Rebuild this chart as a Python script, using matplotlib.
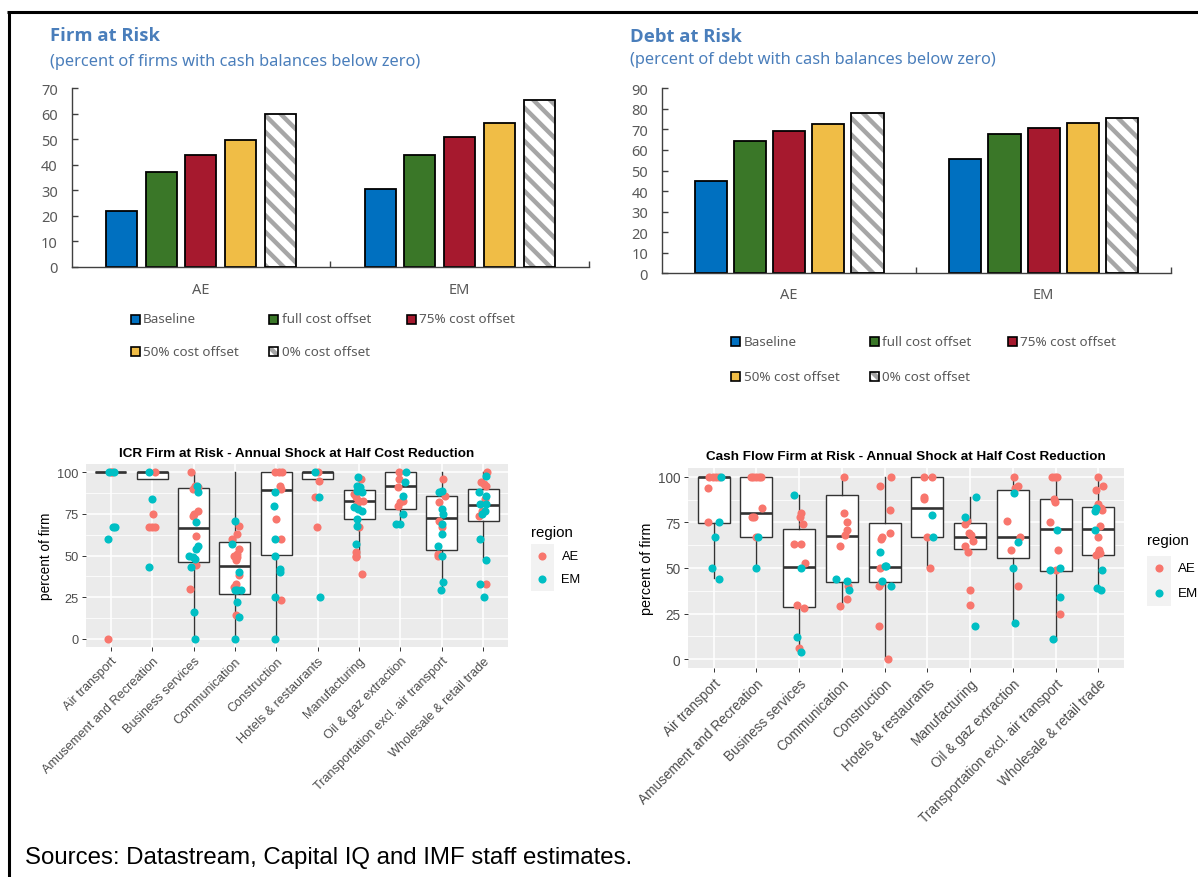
import numpy as np
import matplotlib.pyplot as plt
from matplotlib.patches import Rectangle

W, H = 1198, 878

# ================= data: top bar charts =================
groups = ["AE", "EM"]
scenarios = ["Baseline", "full cost offset", "75% cost offset", "50% cost offset", "0% cost offset"]
# one row per scenario, values for AE / EM
firm_values = [[22.0, 30.5], [37.3, 43.8], [43.8, 50.8], [49.7, 56.4], [59.8, 65.5]]
debt_values = [[44.8, 55.6], [64.5, 67.8], [69.2, 70.8], [72.5, 73.3], [78.0, 75.7]]

# ================= data: bottom box plots =================
sectors = ["Air transport", "Amusement and Recreation", "Business services", "Communication",
           "Construction", "Hotels & restaurants", "Manufacturing", "Oil & gaz extraction",
           "Transportation excl. air transport", "Wholesale & retail trade"]

icr_box_med = [100, 100, 66.3, 43.7, 89.4, 100, 82.8, 91.6, 72.3, 80.2]
icr_box_q1 = [100, 96.2, 45.9, 27.1, 50.3, 96.2, 72.1, 77.8, 53.1, 70.7]
icr_box_q3 = [100, 100, 90.6, 58.1, 100, 100, 89.2, 100, 85.8, 90.0]
icr_box_lo = [100, 96.2, 0, 0, 0, 96.2, 49, 69.3, 28.9, 47.7]
icr_box_hi = [100, 100, 100, 100, 100, 100, 97, 100, 100, 100]

cf_box_med = [100, 80.3, 50.7, 67.7, 50.7, 82.8, 67.2, 67.2, 71.2, 71.2]
cf_box_q1 = [74.8, 67.2, 28.5, 42.2, 42.2, 67.0, 60.2, 55.3, 48.5, 57.3]
cf_box_q3 = [100, 100, 71.2, 90.1, 74.8, 100, 74.5, 92.7, 87.6, 83.6]
cf_box_lo = [44.3, 50.4, 3.8, 28.8, 0, 50.4, 60.2, 20.3, 10.6, 39.4]
cf_box_hi = [100, 100, 90.1, 100, 100, 100, 88.7, 100, 100, 100]

# firm-level points per sector, with the jitter seen in the picture
icr_ae_vals = [
    [100, 100, 0],
    [100, 75, 67, 67, 67],
    [100, 92, 91, 90, 77, 75, 74, 62, 44, 30],
    [68, 63, 60, 54, 51, 50, 49, 47, 38, 33, 31, 14],
    [100, 100, 100, 92, 90, 72, 60, 23],
    [100, 95, 85, 67],
    [96, 87, 85, 83, 83, 81, 67, 52, 50, 49, 39],
    [100, 96, 91, 83, 82, 80],
    [96, 86, 82, 71, 67, 51, 50],
    [100, 94, 93, 92, 84, 77, 74, 33],
]
icr_ae_jit = [
    [0.04, 0.0, -0.08],
    [0.06, 0.03, -0.08, 0.0, 0.06],
    [-0.06, 0.04, 0.10, -0.02, 0.10, 0.02, -0.02, 0.06, 0.06, -0.09],
    [0.10, 0.04, -0.06, 0.09, 0.05, -0.03, 0.06, 0.03, 0.09, 0.03, -0.03, 0.02],
    [-0.04, 0.06, 0.14, 0.08, 0.12, 0.0, 0.12, 0.12],
    [0.0, 0.04, -0.06, -0.02],
    [0.05, -0.12, -0.07, 0.0, 0.10, -0.06, 0.0, -0.07, -0.07, -0.08, 0.06],
    [-0.04, -0.03, -0.05, 0.05, 0.0, -0.05],
    [0.04, 0.08, -0.06, -0.07, 0.0, -0.10, -0.08],
    [0.10, -0.05, 0.02, 0.06, 0.04, -0.02, -0.11, 0.08],
]
icr_em_vals = [
    [100, 100, 67, 67, 60],
    [100, 84, 43],
    [92, 88, 70, 56, 54, 50, 49, 48, 43, 16, 0],
    [71, 57, 40, 29, 29, 29, 22, 13, 0],
    [88, 80, 60, 50, 42, 40, 25, 0],
    [100, 85, 25],
    [97, 92, 91, 89, 88, 79, 78, 77, 72, 68, 57],
    [100, 94, 86, 75, 69, 69],
    [89, 88, 78, 75, 69, 63, 56, 50, 34, 29],
    [98, 88, 86, 81, 81, 77, 75, 60, 47, 33, 25],
]
icr_em_jit = [
    [-0.04, 0.08, 0.06, 0.10, -0.06],
    [-0.07, 0.0, -0.07],
    [0.08, 0.10, 0.05, 0.10, 0.07, -0.10, -0.02, 0.04, -0.06, 0.0, 0.04],
    [0.0, -0.06, 0.11, 0.06, 0.14, 0.0, 0.04, 0.10, 0.0],
    [-0.03, -0.06, -0.03, -0.04, 0.10, 0.08, -0.02, -0.03],
    [-0.06, 0.04, 0.06],
    [-0.02, -0.04, 0.02, -0.04, 0.06, -0.12, -0.03, 0.08, -0.04, -0.06, -0.08],
    [0.13, 0.10, 0.06, 0.06, -0.10, 0.0],
    [0.0, -0.07, 0.0, 0.02, 0.0, 0.0, -0.08, 0.0, 0.02, -0.03],
    [0.08, -0.10, 0.08, -0.08, 0.08, 0.05, -0.04, -0.07, 0.08, -0.07, 0.02],
]

cf_ae_vals = [
    [100, 100, 100, 100, 94, 75],
    [100, 100, 100, 100, 100, 83, 78, 78, 67],
    [80, 78, 74, 63, 63, 53, 30, 28, 6],
    [100, 80, 75, 71, 68, 62, 40, 33, 29],
    [100, 95, 82, 69, 67, 66, 50, 42, 40, 18, 0],
    [100, 100, 89, 88, 67, 50],
    [76, 74, 69, 68, 65, 62, 59, 38, 30],
    [100, 94, 95, 76, 67, 60, 40],
    [100, 100, 100, 88, 86, 75, 60, 49, 25],
    [100, 95, 93, 85, 83, 82, 73, 67, 60, 58, 57, 58],
]
cf_ae_jit = [
    [-0.12, -0.02, 0.05, 0.13, -0.14, -0.14],
    [-0.13, -0.07, 0.0, 0.05, 0.10, 0.12, -0.11, -0.05, 0.0],
    [0.04, 0.02, 0.10, -0.12, 0.05, 0.14, -0.05, 0.12, 0.0],
    [0.05, 0.05, 0.13, 0.13, 0.07, -0.04, 0.15, 0.13, -0.05],
    [0.15, -0.10, 0.12, 0.12, -0.06, -0.09, -0.10, -0.08, -0.12, -0.12, 0.07],
    [-0.09, 0.10, -0.08, -0.09, -0.02, 0.05],
    [-0.08, -0.11, -0.02, 0.02, 0.06, -0.11, -0.05, 0.0, 0.0],
    [0.02, 0.06, 0.12, -0.13, 0.16, -0.05, 0.11],
    [-0.08, -0.02, 0.03, -0.03, -0.02, -0.12, 0.05, 0.0, 0.11],
    [0.0, 0.12, -0.05, 0.0, 0.06, 0.09, 0.05, 0.0, 0.02, 0.0, -0.05, 0.05],
]
cf_em_vals = [
    [100, 75, 67, 50, 44],
    [67, 50],
    [90, 50, 12, 4],
    [44, 43, 38],
    [59, 51, 51, 43, 40],
    [79, 67],
    [89, 78, 18],
    [91, 64, 50, 20],
    [71, 49, 50, 34, 11],
    [83, 81, 71, 49, 39, 38],
]
cf_em_jit = [
    [0.17, 0.12, 0.04, -0.04, 0.12],
    [0.04, -0.02],
    [-0.12, 0.04, -0.04, 0.04],
    [-0.13, 0.12, 0.17],
    [-0.10, 0.02, 0.04, -0.05, 0.14],
    [0.10, 0.13],
    [0.14, -0.11, 0.12],
    [0.02, 0.13, 0.0, 0.06],
    [0.03, -0.13, 0.11, 0.11, -0.05],
    [-0.05, -0.07, -0.07, 0.08, -0.03, 0.07],
]

# ================= styles =================
BAR_COLORS = ["#0070C0", "#3A7728", "#A6192E", "#F0BD46", None]
HATCH_GRAY = "#A6A6A6"
TITLE_BLUE = "#4A7EBB"
TICK_GRAY = "#595959"
AE_COLOR = "#F8766D"
EM_COLOR = "#00BFC4"
TOP_FONT = "Noto Sans"
TITLE_FONT = "Open Sans"
PT_SIZE = 34

plt.rcParams['font.family'] = ['Liberation Sans', 'DejaVu Sans']
plt.rcParams['hatch.linewidth'] = 3.2

fig = plt.figure(figsize=(W / 100, H / 100), dpi=100)

# overlay in pixel coordinates for free text, legends and frame
ov = fig.add_axes([0, 0, 1, 1])
ov.set_xlim(0, W)
ov.set_ylim(H, 0)
ov.axis('off')


def px_axes(x0, y0, x1, y1):
    return fig.add_axes([x0 / W, 1 - y1 / H, (x1 - x0) / W, (y1 - y0) / H])


def bar_chart(box, values, ymax, pitch, width, xpad, ypad):
    ax = px_axes(*box)
    x = np.arange(len(groups))
    for i, color in enumerate(BAR_COLORS):
        xs = x + (i - 2) * pitch
        if color is None:
            ax.bar(xs, values[i], width, color='white', edgecolor=HATCH_GRAY,
                   hatch='\\\\', linewidth=0, zorder=2)
            ax.bar(xs, values[i], width, fill=False, edgecolor='black', linewidth=1.3, zorder=3)
        else:
            ax.bar(xs, values[i], width, color=color, edgecolor='black', linewidth=1.3, zorder=2)
    ax.set_xlim(-0.5, 1.5)
    ax.set_ylim(0, ymax)
    ax.set_yticks(np.arange(0, ymax + 1, 10))
    ax.set_xticks(x)
    ax.set_xticklabels(groups)
    ax.set_xticks([0.5, 1.5], minor=True)
    for s in ['top', 'right']:
        ax.spines[s].set_visible(False)
    for s in ['left', 'bottom']:
        ax.spines[s].set_color('#404040')
        ax.spines[s].set_linewidth(1.0)
    ax.tick_params(axis='y', direction='in', length=4, width=1, color='#404040',
                   pad=ypad, labelsize=10.5, labelcolor=TICK_GRAY)
    ax.tick_params(axis='x', which='major', length=0, pad=xpad, labelsize=10.5, labelcolor=TICK_GRAY)
    ax.tick_params(axis='x', which='minor', direction='in', length=4, width=1, color='#404040')
    for lab in ax.get_xticklabels() + ax.get_yticklabels():
        lab.set_fontfamily(TOP_FONT)
    return ax


bar_chart((71.6, 89.3, 589, 267.7), firm_values, 70, 0.1535, 0.12, 11, 10)
bar_chart((661.8, 89.3, 1171, 274.3), debt_values, 90, 0.154, 0.126, 10, 10)

# titles of top charts
ov.text(50, 36, "Firm at Risk", color=TITLE_BLUE, fontsize=13.3, fontweight='bold',
        family=TITLE_FONT, va='center', ha='left')
ov.text(50, 62.5, "(percent of firms with cash balances below zero)", color=TITLE_BLUE,
        fontsize=11.8, family=TOP_FONT, va='center', ha='left')
ov.text(630, 36.5, "Debt at Risk", color=TITLE_BLUE, fontsize=13.3, fontweight='bold',
        family=TITLE_FONT, va='center', ha='left')
ov.text(630, 60, "(percent of debt with cash balances below zero)", color=TITLE_BLUE,
        fontsize=11.8, family=TOP_FONT, va='center', ha='left')


def bar_legend(cols, rows):
    slots = [(cols[0], rows[0]), (cols[1], rows[0]), (cols[2], rows[0]),
             (cols[0], rows[1]), (cols[1], rows[1])]
    for (cx, cy), name, color in zip(slots, scenarios, BAR_COLORS):
        if color is None:
            ov.add_patch(Rectangle((cx - 4.5, cy - 4.5), 9, 9, facecolor='white',
                                   edgecolor=HATCH_GRAY, hatch='\\\\\\', linewidth=0))
            ov.add_patch(Rectangle((cx - 4.5, cy - 4.5), 9, 9, fill=False,
                                   edgecolor='black', linewidth=1.2))
        else:
            ov.add_patch(Rectangle((cx - 4.5, cy - 4.5), 9, 9, facecolor=color,
                                   edgecolor='black', linewidth=1.2))
        ov.text(cx + 8, cy, name, fontsize=9.7, family=TOP_FONT, color=TICK_GRAY,
                va='center', ha='left')


bar_legend([135, 273.5, 411], [320, 352.7])
bar_legend([735.5, 874, 1012], [342.3, 377.3])


# ================= ggplot-like box panels =================
def box_panel(box, title, med, q1, q3, lo, hi, ae_v, ae_j, em_v, em_j, fs):
    ax = px_axes(*box)
    ax.set_facecolor('#EBEBEB')
    for y in [12.5, 37.5, 62.5, 87.5]:
        ax.axhline(y, color='white', lw=0.55, zorder=0)
    for y in [0, 25, 50, 75, 100]:
        ax.axhline(y, color='white', lw=1.1, zorder=0)
    pos = np.arange(1, len(sectors) + 1)
    for xp in pos:
        ax.axvline(xp, color='white', lw=1.1, zorder=0)
    stats = [dict(med=m, q1=a, q3=b, whislo=l, whishi=h, fliers=[])
             for m, a, b, l, h in zip(med, q1, q3, lo, hi)]
    ax.bxp(stats, positions=pos, widths=0.75, patch_artist=True, showcaps=False,
           showfliers=False, manage_ticks=False,
           boxprops=dict(facecolor='white', edgecolor='#333333', linewidth=1.0),
           whiskerprops=dict(color='#333333', linewidth=1.0),
           medianprops=dict(color='#333333', linewidth=1.9), zorder=1)
    for vals, jits, color in [(ae_v, ae_j, AE_COLOR), (em_v, em_j, EM_COLOR)]:
        for k, (v, j) in enumerate(zip(vals, jits)):
            ax.scatter(pos[k] + np.array(j), v, s=PT_SIZE, color=color, linewidths=0, zorder=3)
    ax.set_xlim(0.4, len(sectors) + 0.6)
    ax.set_ylim(-5, 105)
    ax.set_yticks([0, 25, 50, 75, 100])
    ax.set_xticks(pos)
    ax.set_xticklabels(sectors, rotation=45, ha='right', va='top', rotation_mode='anchor')
    for s in ax.spines.values():
        s.set_visible(False)
    ax.tick_params(length=3, width=0.7, color='#333333', labelcolor='#4D4D4D',
                   labelsize=fs, pad=2.5)
    ax.set_ylabel("percent of firm", fontsize=fs + 0.6, color='black', labelpad=3)
    ax.set_title(title, fontsize=9.7, fontweight='bold', pad=6)
    return ax


box_panel((86, 465, 508, 648), "ICR Firm at Risk - Annual Shock at Half Cost Reduction",
          icr_box_med, icr_box_q1, icr_box_q3, icr_box_lo, icr_box_hi,
          icr_ae_vals, icr_ae_jit, icr_em_vals, icr_em_jit, 9.2)
box_panel((688, 468.6, 1124, 669.4), "Cash Flow Firm at Risk - Annual Shock at Half Cost Reduction",
          cf_box_med, cf_box_q1, cf_box_q3, cf_box_lo, cf_box_hi,
          cf_ae_vals, cf_ae_jit, cf_em_vals, cf_em_jit, 9.8)


def region_legend(x0, ytitle, ytop, key_h, fs):
    ov.text(x0, ytitle, "region", fontsize=10.8, va='center', ha='left')
    ov.add_patch(Rectangle((x0, ytop), 23.5, 2 * key_h, facecolor='#F2F2F2', edgecolor='none'))
    for i, (lab, color) in enumerate([("AE", AE_COLOR), ("EM", EM_COLOR)]):
        cy = ytop + key_h * (i + 0.5)
        ov.scatter([x0 + 11.8], [cy], s=PT_SIZE, color=color, linewidths=0)
        ov.text(x0 + 31, cy, lab, fontsize=fs, va='center', ha='left')


region_legend(530.5, 533, 545, 23.3, 9.3)
region_legend(1147, 541, 556.5, 25, 9.6)

# frame and source note
ov.plot([7, W], [13, 13], color='black', lw=2.2, solid_capstyle='butt')
ov.plot([8.5, 8.5], [12, H], color='black', lw=2.2, solid_capstyle='butt')
ov.text(25, 858, "Sources: Datastream, Capital IQ and IMF staff estimates.",
        fontsize=17.3, va='center', ha='left', color='black')

fig.savefig("out.png", dpi=100)
